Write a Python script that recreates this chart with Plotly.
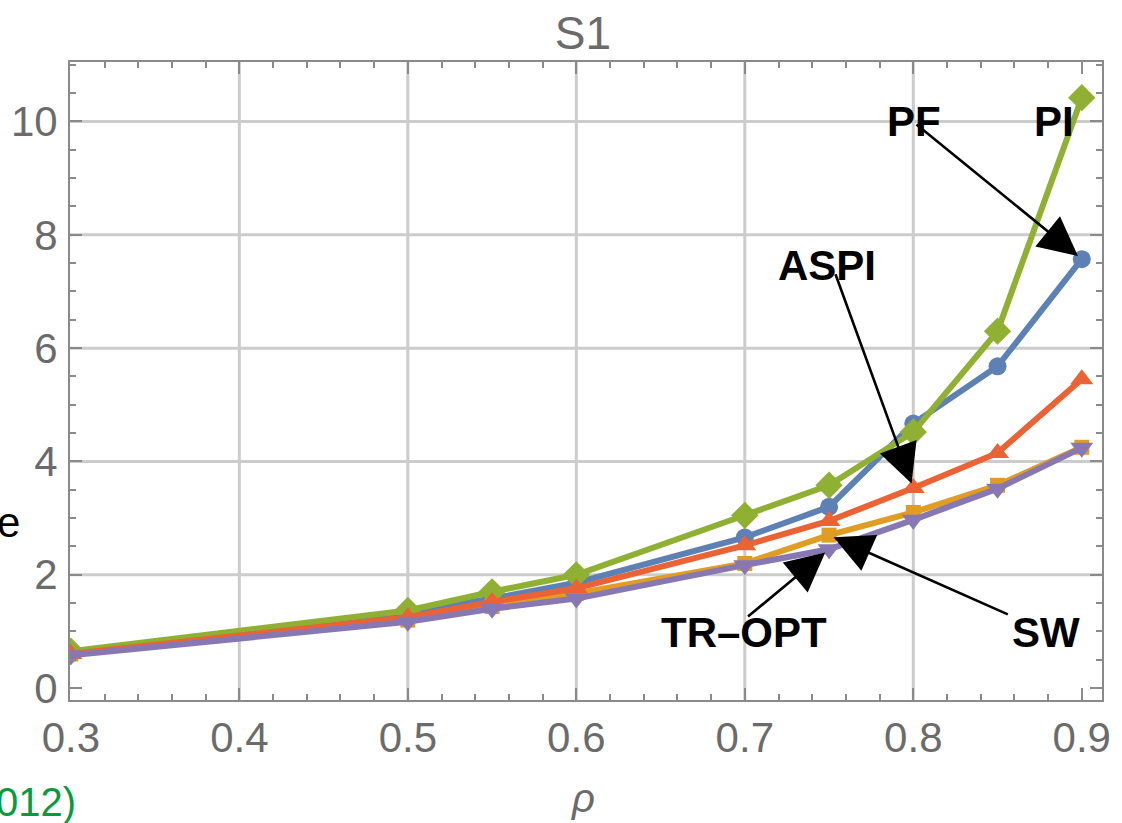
import plotly.graph_objects as go

# ---- data ----
rho = [0.3, 0.5, 0.55, 0.6, 0.7, 0.75, 0.8, 0.85, 0.9]
pf = [0.63, 1.33, 1.58, 1.86, 2.66, 3.2, 4.67, 5.68, 7.57]
sw = [0.6, 1.2, 1.44, 1.67, 2.2, 2.7, 3.1, 3.58, 4.25]
pi = [0.65, 1.37, 1.7, 2.0, 3.05, 3.58, 4.52, 6.3, 10.42]
aspi = [0.6, 1.25, 1.52, 1.76, 2.52, 2.95, 3.53, 4.15, 5.45]
tropt = [0.58, 1.17, 1.4, 1.58, 2.17, 2.45, 2.97, 3.52, 4.24]

x_grid = [0.4, 0.5, 0.6, 0.7, 0.8]
y_grid = [2, 4, 6, 8, 10]

GRAY = "#6b6b6b"
FRAME = "#8a8a8a"
FONT = "Liberation Sans, Arial, sans-serif"

W, H = 1122, 823

series = [
    ("PF", pf, "#5E81B5", "circle", 18),
    ("SW", sw, "#E19C24", "square", 15),
    ("PI", pi, "#8FB032", "diamond", 21),
    ("ASPI", aspi, "#EB6235", "triangle-up", 20),
    ("TR-OPT", tropt, "#8778B3", "triangle-down", 20),
]

fig = go.Figure()
for name, ys, col, sym, sz in series:
    fig.add_trace(go.Scatter(
        x=rho, y=ys, mode="lines+markers", name=name,
        line=dict(color=col, width=6),
        marker=dict(color=col, symbol=sym, size=sz, line=dict(width=0)),
        showlegend=False,
    ))

for v in x_grid:
    fig.add_shape(type="line", xref="x", yref="paper", x0=v, x1=v, y0=0, y1=1,
                  line=dict(color="#cccccc", width=3), layer="below")
for v in y_grid:
    fig.add_shape(type="line", xref="paper", yref="y", x0=0, x1=1, y0=v, y1=v,
                  line=dict(color="#cccccc", width=3), layer="below")

lab_font = dict(family=FONT, size=42, color="black")
labels = [
    ("<b>PF</b>", 0.8005, 10.0),
    ("<b>PI</b>", 0.8835, 10.0),
    ("<b>ASPI</b>", 0.7488, 7.45),
    ("<b>TR–OPT</b>", 0.6996, 0.99),
    ("<b>SW</b>", 0.8787, 0.99),
]
for t, xx, yy in labels:
    fig.add_annotation(x=xx, y=yy, xref="x", yref="y", text=t, showarrow=False,
                       font=lab_font, xanchor="center", yanchor="middle")

arrows = [
    (rho[8], pf[8], 0.801, 9.97),
    (rho[6], aspi[6], 0.7535, 7.33),
    (rho[5], tropt[5], 0.701, 1.24),
    (rho[5], sw[5], 0.857, 1.29),
]
for hx, hy, tx, ty in arrows:
    fig.add_annotation(x=hx, y=hy, ax=tx, ay=ty, xref="x", yref="y",
                       axref="x", ayref="y", text="", showarrow=True,
                       arrowhead=2, arrowsize=3, arrowwidth=2.6,
                       arrowcolor="black", standoff=5)


def px(p):
    return (p - 70) / 1032


def py(p):
    return (700 - p) / 638


fig.add_annotation(xref="paper", yref="paper", x=px(583), y=py(798),
                   text="<i>ρ</i>", showarrow=False, xanchor="center", yanchor="middle",
                   font=dict(family=FONT, size=40, color=GRAY))
fig.add_annotation(xref="paper", yref="paper", x=px(22), y=py(522),
                   text="e", showarrow=False, xanchor="right", yanchor="middle",
                   font=dict(family=FONT, size=42, color="black"))
fig.add_annotation(xref="paper", yref="paper", x=px(78), y=py(802),
                   text="012)", showarrow=False, xanchor="right", yanchor="middle",
                   font=dict(family=FONT, size=40, color="#0a9a3c"))

axis_common = dict(
    showline=True, linecolor=FRAME, linewidth=2, mirror="ticks",
    ticks="inside", tickcolor=FRAME, tickwidth=1.5,
    showgrid=False, zeroline=False, automargin=False,
    tickfont=dict(family=FONT, size=42, color=GRAY),
)

fig.update_layout(
    width=W, height=H,
    margin=dict(l=70, r=20, t=62, b=123, autoexpand=False),
    paper_bgcolor="white", plot_bgcolor="white",
    title=dict(text="S1", x=583 / W, xanchor="center", y=1 - 33 / H,
               yanchor="middle",
               font=dict(family=FONT, size=46, color=GRAY)),
    xaxis=dict(range=[0.2995, 0.912], dtick=0.1, tick0=0.3, ticklen=12,
               tickformat=".1f",
               minor=dict(dtick=0.02, tick0=0.3, ticks="inside", ticklen=6,
                          tickcolor=FRAME, showgrid=False),
               ticklabelstandoff=0,
               **axis_common),
    yaxis=dict(range=[-0.21, 11.05], dtick=2, tick0=0, ticklen=12,
               minor=dict(dtick=0.5, tick0=0, ticks="inside", ticklen=6,
                          tickcolor=FRAME, showgrid=False),
               ticklabelstandoff=2,
               **axis_common),
)

fig.write_html("out.html",
               config={"displayModeBar": False},
               post_script="document.body.style.margin='0';document.body.style.padding='0';")
